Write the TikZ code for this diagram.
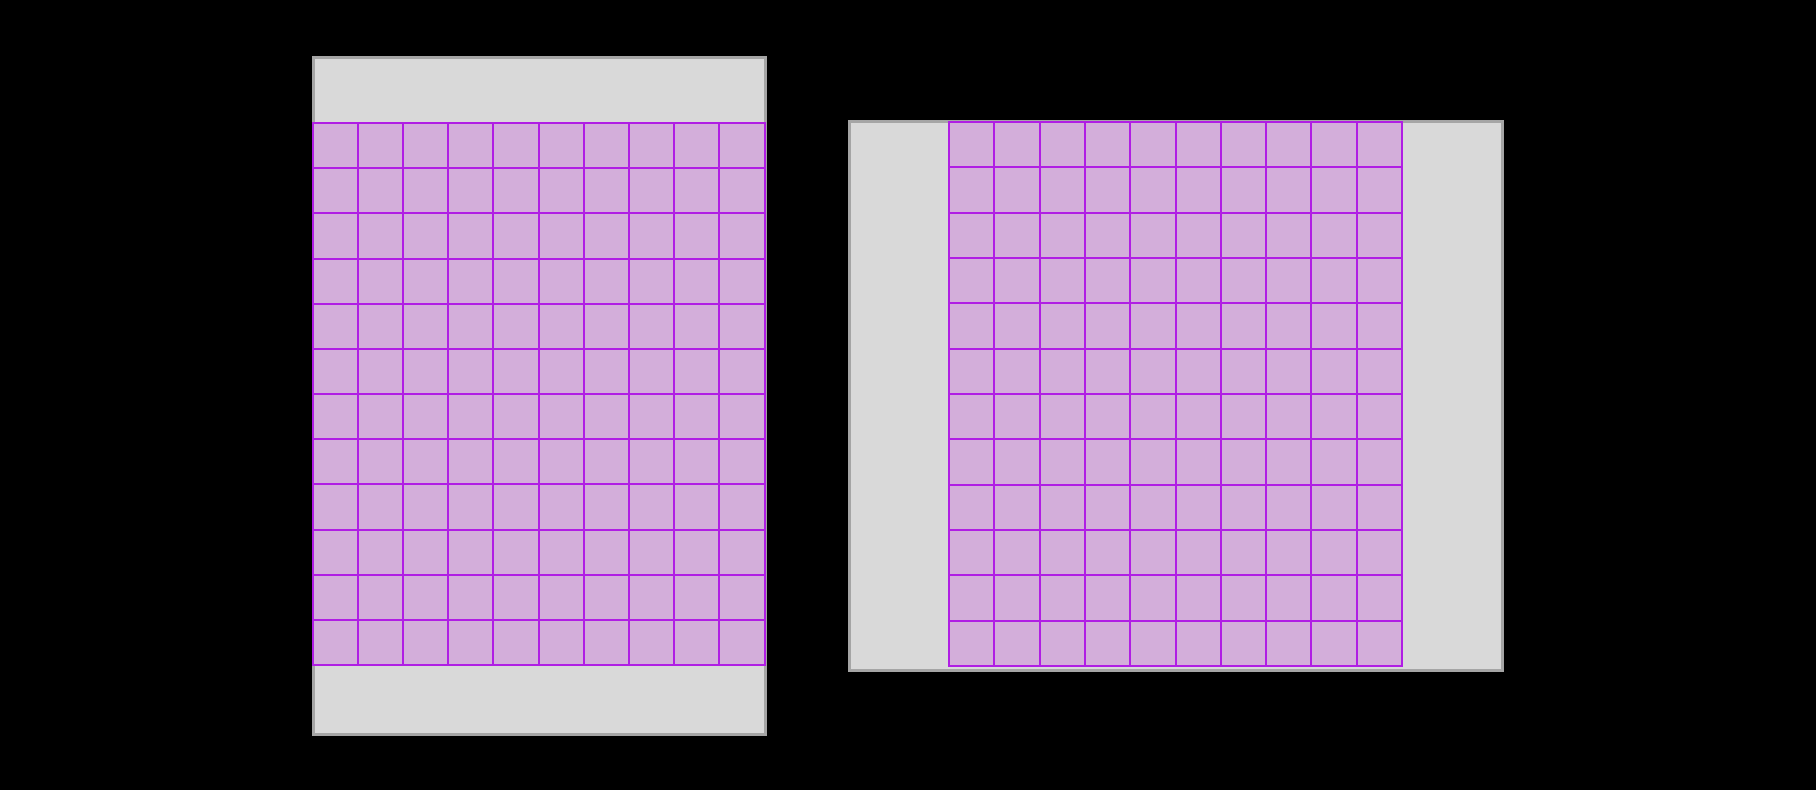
\documentclass[tikz,border=0pt]{standalone}
\usetikzlibrary{positioning}
\definecolor{panelgray}{RGB}{217,217,217}
\definecolor{panelborder}{RGB}{165,165,165}
\definecolor{cellfill}{RGB}{211,174,218}
\definecolor{cellline}{RGB}{176,30,228}
\tikzset{
  panel/.style={draw=panelborder, fill=panelgray, line width=3pt, inner sep=0pt, minimum width=#1},
  gridline/.style={draw=cellline, line width=2pt},
  gridborder/.style={draw=cellline, line width=2.4pt},
}
\begin{document}
\begin{tikzpicture}[x=1pt,y=-1pt]
\fill[black] (0,0) rectangle (1816,790);
\useasboundingbox (0,0) rectangle (1816,790);
% left panel
\node[panel=452pt, minimum height=677pt] (leftpanel) at (539.5,395.5) {};
% right panel
\node[panel=653pt, minimum height=549pt] (rightpanel) at (1176,396) {};
% left grid
\fill[cellfill] (313,123) rectangle (765,665);
\foreach \i in {1,...,9} \draw[gridline] ({313+\i*45.1},123) -- ({313+\i*45.1},665);
\foreach \j in {1,...,11} \draw[gridline] (313,{123+\j*45.1667}) -- (765,{123+\j*45.1667});
\draw[gridborder] (313,123) rectangle (765,665);
% right grid
\fill[cellfill] (949,122) rectangle (1402,666);
\foreach \i in {1,...,9} \draw[gridline] ({949+\i*45.3},122) -- ({949+\i*45.3},666);
\foreach \j in {1,...,11} \draw[gridline] (949,{122+\j*45.3333}) -- (1402,{122+\j*45.3333});
\draw[gridborder] (949,122) rectangle (1402,666);
\end{tikzpicture}
\end{document}
